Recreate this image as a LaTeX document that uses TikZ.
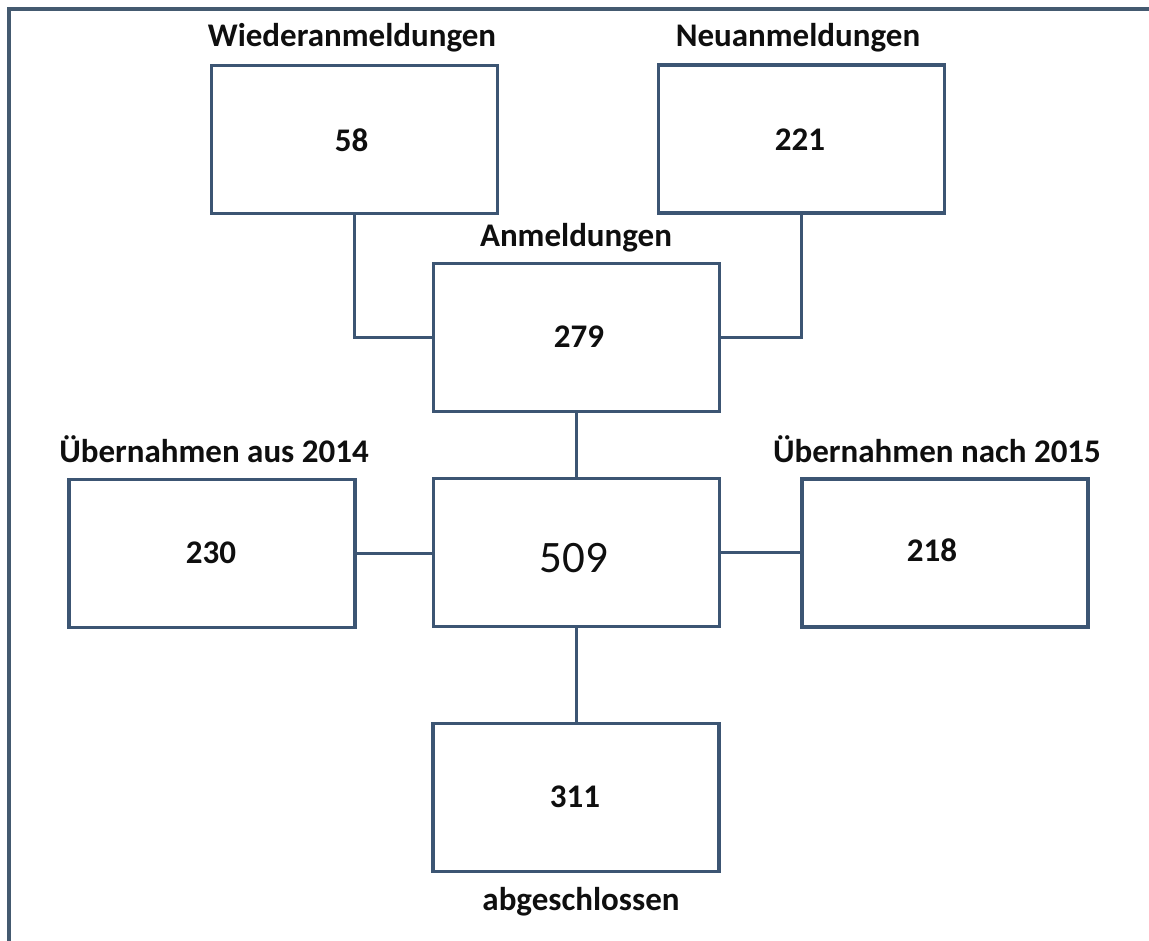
\documentclass[tikz,border=0pt]{standalone}
\usepackage{fontspec}
\setmainfont{Carlito}
\definecolor{boxline}{RGB}{60,85,115}
\definecolor{frameline}{RGB}{68,90,112}
\definecolor{txt}{RGB}{15,15,15}
\begin{document}
\begin{tikzpicture}[x=1pt,y=-1pt,
  box/.style={draw=boxline,line width=3.3pt,rectangle,minimum width=286pt,minimum height=148pt,inner sep=0pt},
  lbl/.style={anchor=base,inner sep=0pt,text=txt,font=\fontsize{33}{36}\selectfont\bfseries},
  num/.style={anchor=center,inner sep=0pt,text=txt,font=\fontsize{33}{36}\selectfont\bfseries},
  bignum/.style={anchor=center,inner sep=0pt,text=txt,font=\fontsize{45}{50}\selectfont},
  link/.style={draw=boxline,line width=3.3pt}]
\useasboundingbox (0,0) rectangle (1149,941);
\fill[white] (0,0) rectangle (1149,941);
\draw[frameline,line width=3.5pt] (9,945) -- (9,9) -- (1152,9);

\node[box] (wied) at (354.5,139.5) {};
\node[box] (neu) at (801.5,139) {};
\node[box] (anm) at (576.5,337.5) {};
\node[box] (mid) at (576.5,552.5) {};
\node[box] (links) at (212,553.5) {};
\node[box] (rechts) at (945,553) {};
\node[box] (abg) at (576,797.5) {};

\node[lbl] (lwied) at (352,47) {Wiederanmeldungen};
\node[lbl] (lneu) at (798,47) {Neuanmeldungen};
\node[lbl] (lanm) at (576,247) {Anmeldungen};
\node[lbl] (llinks) at (214,462) {Übernahmen aus 2014};
\node[lbl] (lrechts) at (937,462) {Übernahmen nach 2015};
\node[lbl] (labg) at (581,910) {abgeschlossen};

\node[num] (n58) at (351.5,140) {58};
\node[num] (n221) at (800,140) {221};
\node[num] (n279) at (579,337) {279};
\node[bignum] (n509) at (574,558) {509};
\node[num] (n230) at (211,552.5) {230};
\node[num] (n218) at (932,550) {218};
\node[num] (n311) at (575,797) {311};

\draw[link] (wied.south) |- (anm.west);
\draw[link] (neu.south) |- (anm.east);
\draw[link] (anm.south) -- (mid.north);
\draw[link] (links.east) -- (links.east -| mid.west);
\draw[link] (mid.east) -- (mid.east -| rechts.west);
\draw[link] (mid.south) -- (mid.south |- abg.north);
\end{tikzpicture}
\end{document}
